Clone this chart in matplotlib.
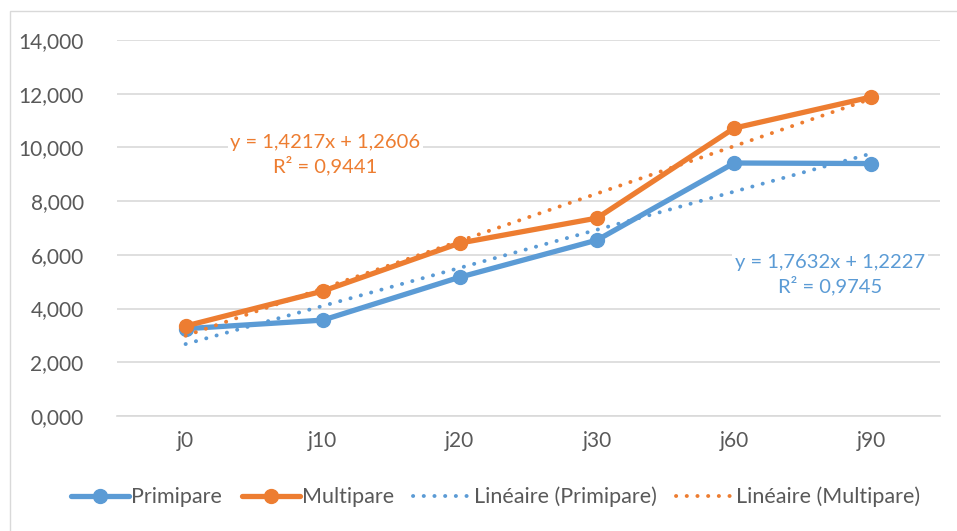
import matplotlib
matplotlib.use("Agg")
import matplotlib.pyplot as plt
from matplotlib.ticker import FuncFormatter, MultipleLocator
from matplotlib.patches import Rectangle
import numpy as np

plt.rcParams['font.family'] = ['Lato', 'DejaVu Sans']

# data
days = ["j0", "j10", "j20", "j30", "j60", "j90"]
primipare = [3.25, 3.57, 5.17, 6.55, 9.42, 9.40]
multipare = [3.35, 4.65, 6.44, 7.37, 10.72, 11.88]
eq_primipare = "y = 1,7632x + 1,2227\nR² = 0,9745"
eq_multipare = "y = 1,4217x + 1,2606\nR² = 0,9441"

blue = "#5B9BD5"
orange = "#ED7D31"
grey_text = "#595959"

fig = plt.figure(figsize=(9.57, 5.31), dpi=100)
ax = fig.add_axes([117/957, 1 - 416/531, (940 - 117)/957, (416 - 40)/531])

# chart frame (light border top/left like the Excel export)
fig.patches.append(Rectangle((10/957, -0.1), 1.2, 1 - 11/531 + 0.1, transform=fig.transFigure,
                             fill=False, edgecolor="#D9D9D9", linewidth=1.0))

x = np.arange(1, len(days) + 1)

ax.plot(x, primipare, color=blue, lw=3.8, marker="o", ms=10, solid_capstyle="round",
        label="Primipare", zorder=4)
ax.plot(x, multipare, color=orange, lw=3.8, marker="o", ms=10, solid_capstyle="round",
        label="Multipare", zorder=5)

# linear trendlines fitted on the series
for ys, col, name in [(primipare, blue, "Linéaire (Primipare)"),
                      (multipare, orange, "Linéaire (Multipare)")]:
    a, b = np.polyfit(x, ys, 1)
    ax.plot(x, a * x + b, color=col, lw=2.8, linestyle=(0, (0.05, 2.7)),
            dash_capstyle="round", label=name, zorder=6)

ax.set_xlim(0.5, 6.5)
ax.set_ylim(0, 14)
ax.yaxis.set_major_locator(MultipleLocator(2))
ax.yaxis.set_major_formatter(FuncFormatter(lambda v, p: f"{v:,.3f}".replace(",", " ").replace(".", ",").replace(" ", ",")))
ax.set_xticks(x)
ax.set_xticklabels(days)
ax.grid(axis="y", color="#D9D9D9", lw=1.2)
ax.set_axisbelow(True)
for s in ["top", "right", "left"]:
    ax.spines[s].set_visible(False)
ax.spines["bottom"].set_color("#D9D9D9")
ax.spines["bottom"].set_linewidth(1.2)
ax.tick_params(axis="both", length=0, labelsize=15, colors=grey_text)
ax.tick_params(axis="y", pad=24)
ax.tick_params(axis="x", pad=11)

ax.text(2.02, 9.74, eq_multipare, color=orange, fontsize=14.5, ha="center", va="center",
        linespacing=1.3, bbox=dict(facecolor="white", edgecolor="none", pad=2), zorder=3)
ax.text(5.7, 5.27, eq_primipare, color=blue, fontsize=14.5, ha="center", va="center",
        linespacing=1.3, bbox=dict(facecolor="white", edgecolor="none", pad=2), zorder=3)

leg = fig.legend(loc="center", bbox_to_anchor=(0.518, 1 - 497/531), ncol=4, frameon=False,
                 fontsize=15.5, handlelength=2.7, handletextpad=0.1, columnspacing=0.9)
for t in leg.get_texts():
    t.set_color(grey_text)

fig.savefig("out.png", dpi=100)
